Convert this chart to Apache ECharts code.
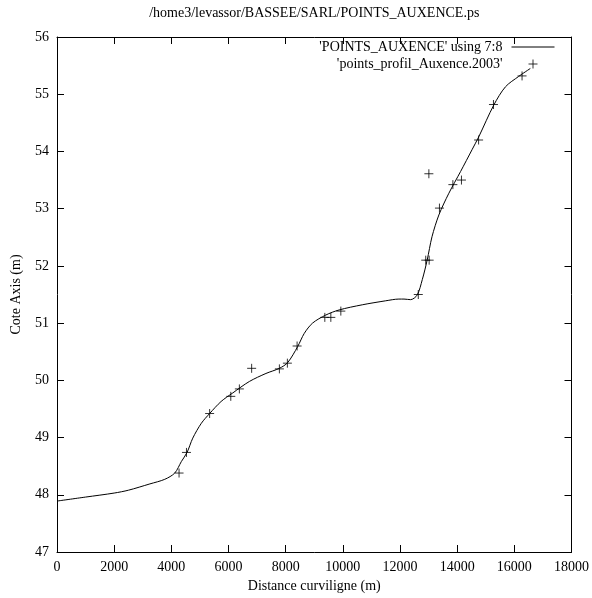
<!DOCTYPE html>
<html>
<head>
<meta charset="utf-8">
<script src="https://cdn.jsdelivr.net/npm/echarts@6/dist/echarts.min.js"></script>
<style>
  html, body { margin: 0; padding: 0; background: #fff; }
  #chart { width: 592px; height: 598px; }
</style>
</head>
<body>
<div id="chart"></div>
<script>
// courbe calculee (colonnes 7:8)
const curveX = [0, 1000, 2000, 2500, 3250, 3770, 4120, 4350, 4550, 4750, 5050, 5340, 5740, 6150, 6730, 7310,
  7780, 8070, 8420, 8650, 8940, 9400, 9870, 10680, 11500, 11960, 12140, 12370, 12600, 12780, 12950,
  13120, 13360, 13710, 14120, 14520, 14760, 15280, 15690, 16150, 16560];
const curveY = [47.89, 47.96, 48.03, 48.08, 48.19, 48.27, 48.38, 48.58, 48.74, 48.99, 49.25, 49.42, 49.63, 49.78, 49.98, 50.12,
  50.21, 50.31, 50.59, 50.82, 51.00, 51.14, 51.23, 51.32, 51.39, 51.42, 51.42, 51.41, 51.49, 51.76, 52.10,
  52.51, 52.89, 53.27, 53.65, 54.03, 54.26, 54.81, 55.13, 55.31, 55.45];

// points mesures 2003
const ptsX = [4270, 4530, 5340, 6080, 6380, 6810, 7780, 8060, 8400, 9370, 9580, 9930,
  12640, 12900, 13020, 13010, 13380, 13850, 14150, 14750, 15270, 16270];
const ptsY = [48.38, 48.74, 49.42, 49.72, 49.85, 50.21, 50.20, 50.30, 50.60, 51.10, 51.10, 51.21,
  51.50, 52.10, 52.10, 53.61, 53.01, 53.42, 53.50, 54.20, 54.82, 55.32];

const xTicks = [0, 2000, 4000, 6000, 8000, 10000, 12000, 14000, 16000, 18000];
const yTicks = [47, 48, 49, 50, 51, 52, 53, 54, 55, 56];

const FONT = 'Liberation Serif';
const LINE_NAME = "'POINTS_AUXENCE' using 7:8";
const PTS_NAME = "'points_profil_Auxence.2003'";
const PLUS = 'path://M0,5L10,5M5,0L5,10';
const chart = echarts.init(document.getElementById('chart'));

const baseAxis = {
  axisLine: { show: true, onZero: false, lineStyle: { color: '#000', width: 1 } },
  axisTick: { show: true, inside: true, length: 7, lineStyle: { color: '#000' } },
  splitLine: { show: false },
};
const txt = { fontFamily: FONT, fontSize: 14, color: '#000' };

chart.setOption({
  animation: false,
  backgroundColor: '#fff',
  grid: { left: 57, right: 19, top: 37, bottom: 46 },
  legend: {
    orient: 'vertical',
    right: 35,
    top: 40,
    padding: 0,
    align: 'right',
    itemWidth: 43,
    itemHeight: 9,
    itemGap: 3,
    symbolKeepAspect: true,
    textStyle: Object.assign({ padding: [0, 4, 0, 0] }, txt),
    data: [
      {
        name: LINE_NAME,
        icon: 'path://M0,0L0,0M0,4.5L43,4.5M43,9L43,9',
        itemStyle: { color: 'none', borderColor: '#000', borderWidth: 1 },
      },
      {
        name: PTS_NAME,
        icon: PLUS,
        itemStyle: { color: 'none', borderColor: '#000', borderWidth: 1 },
      },
    ],
  },
  xAxis: [
    Object.assign({}, baseAxis, {
      type: 'value', position: 'bottom',
      min: xTicks[0], max: xTicks[xTicks.length - 1], interval: 2000,
      name: 'Distance curviligne (m)', nameLocation: 'middle', nameGap: 27,
      nameTextStyle: txt,
      axisLabel: Object.assign({ margin: 8, formatter: v => String(v) }, txt),
    }),
    Object.assign({}, baseAxis, {
      type: 'value', position: 'top',
      min: xTicks[0], max: xTicks[xTicks.length - 1], interval: 2000,
      name: '/home3/levassor/BASSEE/SARL/POINTS_AUXENCE.ps', nameLocation: 'middle', nameGap: 17,
      nameTextStyle: txt,
      axisLabel: { show: false },
    }),
  ],
  yAxis: [
    Object.assign({}, baseAxis, {
      type: 'value', position: 'left',
      min: yTicks[0], max: yTicks[yTicks.length - 1], interval: 1,
      name: 'Cote Axis (m)', nameLocation: 'middle', nameGap: 34,
      nameTextStyle: txt,
      axisLabel: Object.assign({ margin: 8 }, txt),
    }),
    Object.assign({}, baseAxis, {
      type: 'value', position: 'right',
      min: yTicks[0], max: yTicks[yTicks.length - 1], interval: 1,
      axisLabel: { show: false },
    }),
  ],
  series: [
    {
      name: LINE_NAME,
      type: 'line',
      symbol: 'none',
      smooth: 0.3,
      data: curveX.map((x, i) => [x, curveY[i]]),
      lineStyle: { color: '#000', width: 1 },
      itemStyle: { color: '#000' },
    },
    {
      name: PTS_NAME,
      type: 'scatter',
      symbol: PLUS,
      symbolSize: 9,
      data: ptsX.map((x, i) => [x, ptsY[i]]),
      itemStyle: { color: 'none', borderColor: '#000', borderWidth: 1 },
    },
  ],
});
</script>
</body>
</html>
